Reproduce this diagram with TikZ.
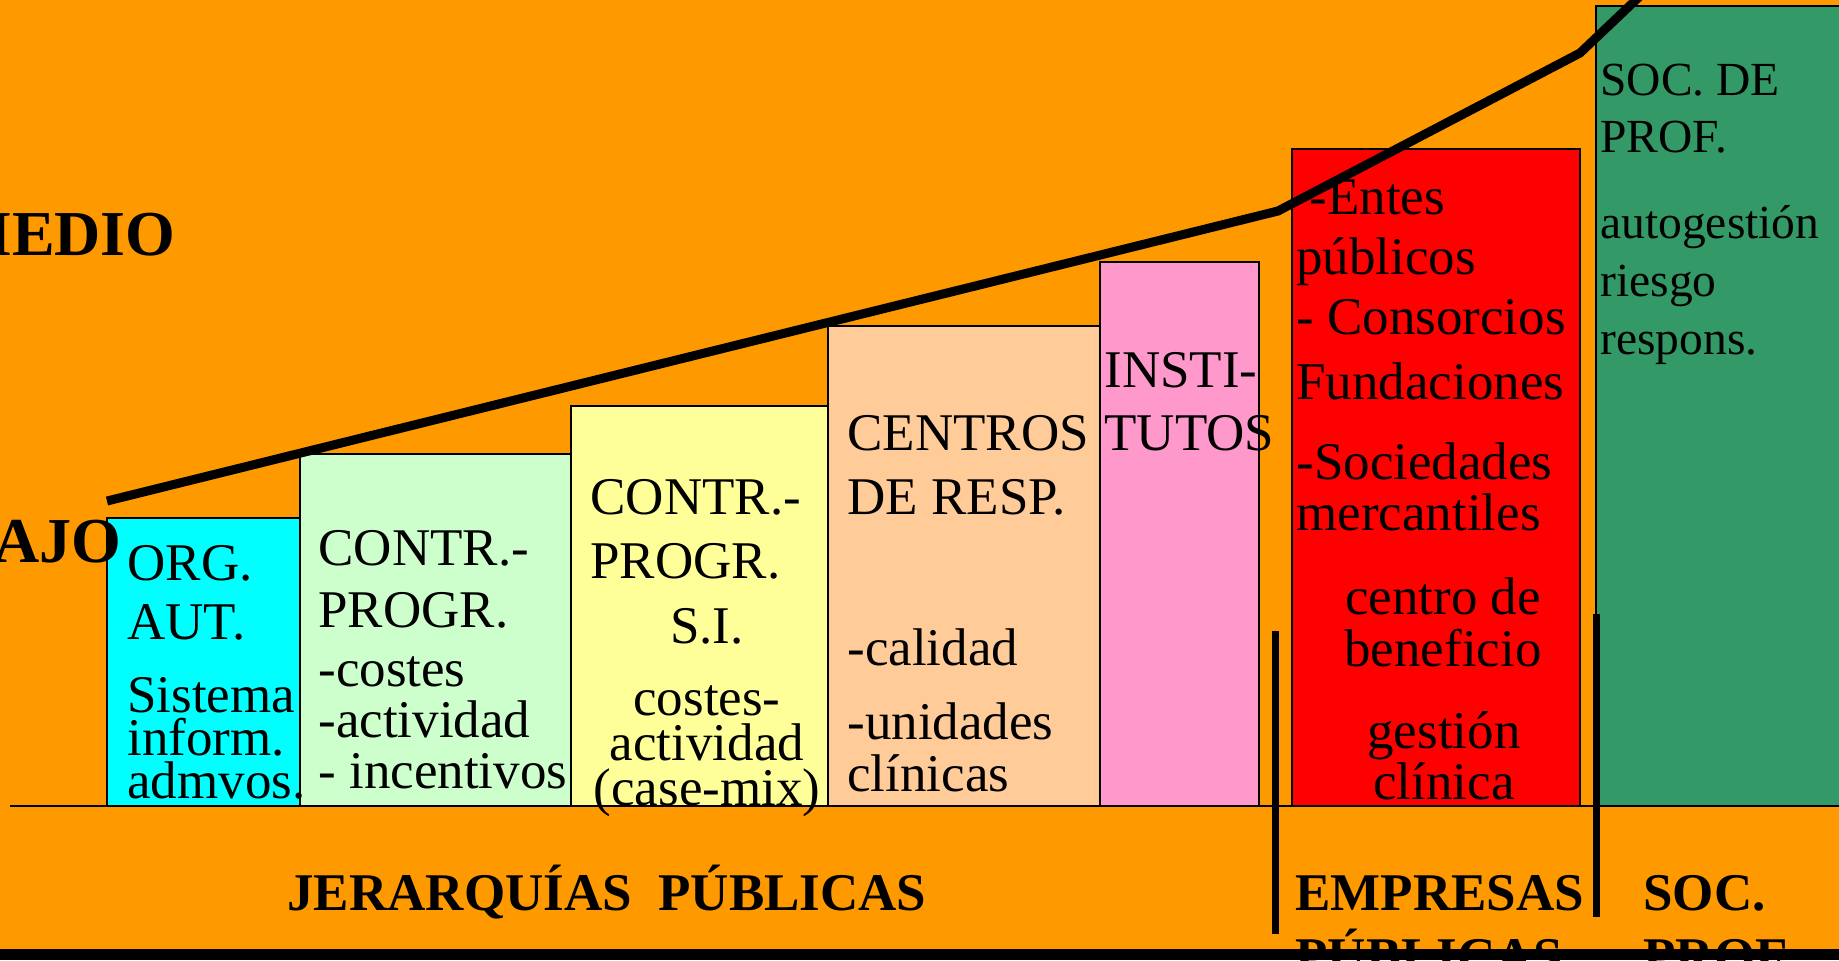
\documentclass[tikz,border=0pt]{standalone}
\usepackage{fontspec}
\setmainfont{Liberation Serif}
\usepackage{tikz}
\usetikzlibrary{positioning}

\definecolor{bg}{HTML}{FF9900}
\definecolor{cyanbox}{HTML}{00FFFF}
\definecolor{mintbox}{HTML}{CCFFCC}
\definecolor{lemonbox}{HTML}{FFFF99}
\definecolor{peachbox}{HTML}{FFCC99}
\definecolor{pinkbox}{HTML}{FF99CC}
\definecolor{redbox}{HTML}{FF0000}
\definecolor{seabox}{HTML}{339966}

\begin{document}
\begin{tikzpicture}[x=0.5pt, y=-0.5pt,
box/.style={draw=black, line width=0.6pt, fill=#1},
txt/.style={inner sep=0pt, anchor=base west, align=left,
  font=\fontsize{26.5}{#1}\selectfont},
txt/.default=26,
ctr/.style={txt=#1, anchor=base, align=center},
ctr/.default=26,
soc/.style={inner sep=0pt, anchor=base west, align=left,
  font=\fontsize{23.75}{#1}\selectfont},
big/.style={inner sep=0pt, anchor=base east,
  font=\fontsize{32}{36}\selectfont\bfseries},
lab/.style={inner sep=0pt, anchor=base west, align=left,
  font=\fontsize{26.5}{32}\selectfont\bfseries},
trend/.style={line width=4.5pt},
sep/.style={line width=3.5pt}]

\useasboundingbox (0,0) rectangle (1839,960);
\clip (0,0) rectangle (1839,960);
\fill[bg] (0,0) rectangle (1839,960);

% columns
\draw[box=cyanbox] (107,518) rectangle (300,806);
\draw[box=mintbox] (300,454) rectangle (571,806);
\draw[box=lemonbox] (571,406) rectangle (828,806);
\draw[box=peachbox] (828,326) rectangle (1100,806);
\draw[box=pinkbox] (1100,262) rectangle (1259,806);
\draw[box=redbox] (1292,149) rectangle (1580,806);
\draw[box=seabox] (1596,6) rectangle (1845,806);

% rising line and ground
\draw[trend] (107,501) -- (1278,211) -- (1580,53) -- (1640,-4);
\draw[line width=1pt] (10,806) -- (1839,806);
\draw[sep] (1275,631) -- (1275,934);
\draw[sep] (1596,614) -- (1596,917);

\node[big] (medio) at (176,255) {MEDIO};
\node[big] (bajo) at (122,562) {BAJO};

% base anchor of a node = last line
\node[txt=29.3] (org) at (127,639) {ORG.\\AUT.};
\node[txt=21.5] (sis) at (127,798) {Sistema\\inform.\\admvos.};

\node[txt=31] (cp1) at (318,627) {CONTR.-\\PROGR.};
\node[txt=25.5] (cost1) at (318,788) {-costes\\-actividad\\- incentivos};

\node[txt=32] (cp2) at (590,578) {CONTR.-\\PROGR.};
\node[ctr] (si) at (707,643) {S.I.};
\node[ctr=22.5] (cost2) at (707,805) {costes-\\actividad\\(case-mix)};

\node[txt=32] (cent) at (847,514) {CENTROS\\DE RESP.};
\node[txt] (cal) at (847,665) {-calidad};
\node[txt=26] (unid) at (847,791) {-unidades\\clínicas};

\node[txt=31.5] (inst) at (1104,450) {INSTI-\\TUTOS};

\node[txt=30] (entes) at (1296,334) {~-Entes\\públicos\\- Consorcios};
\node[txt] (fund) at (1296,399) {Fundaciones};
\node[txt=25.5] (socied) at (1296,530) {-Sociedades\\mercantiles};
\node[ctr=26] (benef) at (1443,666) {centro de\\beneficio};
\node[ctr=25.5] (gest) at (1444,799) {gestión\\clínica};

\node[soc=28.5] (socde) at (1600,152) {SOC. DE\\PROF.};
\node[soc=29] (autog) at (1600,354) {autogestión\\riesgo\\respons.};

% groups
\node[lab] (jer) at (287,910) {JERARQUÍAS~~PÚBLICAS};
\node[lab] (emp) at (1295,974) {EMPRESAS\\PÚBLICAS};
\node[lab] (socpr) at (1643,974) {SOC.\\PROF.};

\fill (0,949) rectangle (1839,960);
\end{tikzpicture}
\end{document}
